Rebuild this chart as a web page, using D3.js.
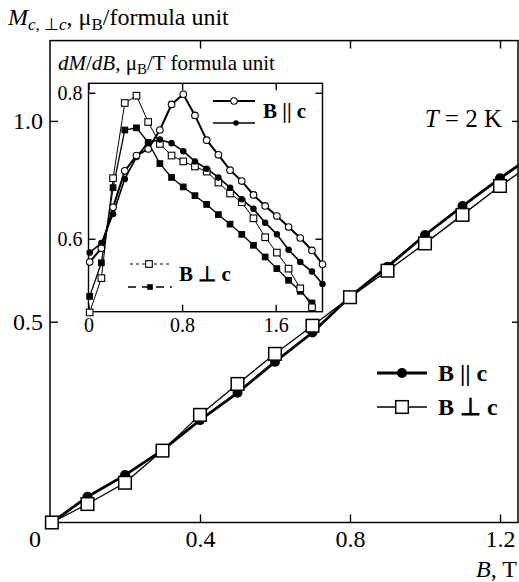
<!DOCTYPE html>
<html>
<head>
<meta charset="utf-8">
<script src="https://cdn.jsdelivr.net/npm/d3@7"></script>
<style>
  body { margin: 0; background: #fff; }
  text { font-family: "Liberation Serif", "Times New Roman", serif; fill: #000; }
</style>
</head>
<body>
<div id="chart"></div>
<script>
// Main plot data: magnetisation vs field (last point only carries the line to the edge)
var mainField    = [0.005, 0.1, 0.2, 0.3, 0.4, 0.5, 0.6, 0.7, 0.8, 0.9, 1.0, 1.1, 1.2, 1.25];
var mainParallel = [0, 0.064, 0.118, 0.18, 0.255, 0.323, 0.40, 0.473, 0.562, 0.637, 0.716, 0.788, 0.857, 0.89];
var mainPerp     = [0, 0.046, 0.099, 0.179, 0.268, 0.345, 0.42, 0.49, 0.561, 0.627, 0.695, 0.766, 0.838, 0.87];

// Inset data: dM/dB vs field
var insetField = [0.01, 0.11, 0.21, 0.31, 0.41, 0.51, 0.61, 0.71, 0.81, 0.91, 1.01,
                  1.11, 1.21, 1.31, 1.41, 1.51, 1.61, 1.71, 1.81, 1.91, 2.0];
var openParallel   = [0.568, 0.587, 0.643, 0.693, 0.714, 0.723, 0.749, 0.784, 0.798, 0.769, 0.735,
                      0.715, 0.694, 0.679, 0.660, 0.645, 0.631, 0.616, 0.601, 0.584, 0.565];
var filledParallel = [0.581, 0.594, 0.634, 0.682, 0.712, 0.732, 0.736, 0.731, 0.720, 0.706, 0.696,
                      0.684, 0.670, 0.654, 0.641, 0.622, 0.606, 0.585, 0.568, 0.555, 0.538];
var openPerp       = [0.499, 0.546, 0.683, 0.786, 0.796, 0.760, 0.730, 0.714, 0.706, 0.699, 0.692,
                      0.677, 0.662, 0.650, 0.628, 0.602, 0.581, 0.559, 0.532, 0.506];
var filledPerp     = [0.521, 0.567, 0.670, 0.749, 0.752, 0.732, 0.703, 0.684, 0.671, 0.659, 0.647,
                      0.633, 0.620, 0.606, 0.591, 0.575, 0.559, 0.543, 0.528, 0.512];

// Tick values
var mainXTicks = [0.4, 0.8, 1.2];
var mainYTicks = [0.5, 1.0];
var insetXTicks = [0, 0.8, 1.6];
var insetYTicks = [0.6, 0.8];

function zip(xs, ys) {
  return ys.map(function(v, i) { return { B: xs[i], M: v }; });
}

var svgWidth = 519, svgHeight = 582;
var svg = d3.select("#chart").append("svg")
  .attr("width", svgWidth)
  .attr("height", svgHeight);

svg.append("rect").attr("width", svgWidth).attr("height", svgHeight).attr("fill", "#fff");

// Main scales
// ================================
var x = d3.scaleLinear().domain([0, 1.25]).range([50, 518.75]);
var y = d3.scaleLinear().domain([0, 1.2]).range([522.5, 40.6]);

svg.append("clipPath").attr("id", "mainClip")
  .append("rect").attr("x", 50).attr("y", 40.6).attr("width", 468.5).attr("height", 482);

function tidy(g) {
  g.select(".domain").remove();
  g.selectAll("line").attr("stroke", "#000").attr("stroke-width", 1.4);
}

svg.append("g").attr("transform", "translate(0,522.5)")
  .call(d3.axisBottom(x).tickValues(mainXTicks).tickSize(-8).tickPadding(7).tickFormat(d3.format(".1f")))
  .call(tidy)
  .selectAll("text").attr("font-size", 24).attr("font-family", "Liberation Serif");

svg.append("g").attr("transform", "translate(0,40.6)")
  .call(d3.axisTop(x).tickValues(mainXTicks).tickSize(-8).tickFormat(""))
  .call(tidy);

svg.append("g").attr("transform", "translate(50,0)")
  .call(d3.axisLeft(y).tickValues(mainYTicks).tickSize(-8).tickPadding(7).tickFormat(d3.format(".1f")))
  .call(tidy)
  .selectAll("text").attr("font-size", 24).attr("font-family", "Liberation Serif");

svg.append("g").attr("transform", "translate(518,0)")
  .call(d3.axisRight(y).tickValues(mainYTicks).tickSize(-6).tickFormat(""))
  .call(tidy);

svg.append("rect")
  .attr("x", 50).attr("y", 40.6).attr("width", 468).attr("height", 481.9)
  .attr("fill", "none").attr("stroke", "#000").attr("stroke-width", 1.5);

svg.append("text").attr("x", 35).attr("y", 547).attr("text-anchor", "middle")
  .attr("font-size", 24).text("0");

// Axis labels
var xLabel = svg.append("text").attr("x", 517).attr("y", 577).attr("text-anchor", "end").attr("font-size", 24);
xLabel.append("tspan").attr("font-style", "italic").text("B");
xLabel.append("tspan").text(", T");

var yLabel = svg.append("text").attr("x", 8).attr("y", 25).attr("font-size", 24);
yLabel.append("tspan").attr("font-style", "italic").text("M");
yLabel.append("tspan").attr("font-size", 17).attr("dy", 5).attr("font-style", "italic").text("c");
yLabel.append("tspan").attr("font-size", 17).text(", ⊥");
yLabel.append("tspan").attr("font-size", 17).attr("font-style", "italic").text("c");
yLabel.append("tspan").attr("dy", -5).text(", μ");
yLabel.append("tspan").attr("font-size", 17).attr("dy", 5).text("B");
yLabel.append("tspan").attr("dy", -5).text("/formula unit");

var tLabel = svg.append("text").attr("x", 502).attr("y", 127).attr("text-anchor", "end").attr("font-size", 25);
tLabel.append("tspan").attr("font-style", "italic").text("T");
tLabel.append("tspan").text(" = 2 K");

// Main curves
// ================================
var mainLine = d3.line().x(function(d) { return x(d.B); }).y(function(d) { return y(d.M); });
var parData = zip(mainField, mainParallel);
var perpData = zip(mainField, mainPerp);

var mainGroup = svg.append("g").attr("clip-path", "url(#mainClip)");

mainGroup.append("path").datum(parData).attr("d", mainLine)
  .attr("fill", "none").attr("stroke", "#000").attr("stroke-width", 2.8);
mainGroup.selectAll(".par-dot").data(parData.filter(function(d) { return d.B <= 1.2; }))
  .enter().append("circle").attr("class", "par-dot")
  .attr("cx", function(d) { return x(d.B); })
  .attr("cy", function(d) { return y(d.M); })
  .attr("r", 5).attr("fill", "#000");

mainGroup.append("path").datum(perpData).attr("d", mainLine)
  .attr("fill", "none").attr("stroke", "#000").attr("stroke-width", 1.3);
svg.selectAll(".perp-sq").data(perpData.filter(function(d) { return d.B <= 1.2; }))
  .enter().append("rect").attr("class", "perp-sq")
  .attr("x", function(d) { return x(d.B) - 6.3; })
  .attr("y", function(d) { return y(d.M) - 6.3; })
  .attr("width", 12.6).attr("height", 12.6)
  .attr("fill", "#fff").attr("stroke", "#000").attr("stroke-width", 1.5);

// Main legend
var lg = svg.append("g");
lg.append("line").attr("x1", 377).attr("x2", 427).attr("y1", 373).attr("y2", 373)
  .attr("stroke", "#000").attr("stroke-width", 2.8);
lg.append("circle").attr("cx", 402).attr("cy", 373).attr("r", 5).attr("fill", "#000");
lg.append("text").attr("x", 438).attr("y", 381).attr("font-size", 24).attr("font-weight", "bold").text("B || c");
lg.append("line").attr("x1", 377).attr("x2", 427).attr("y1", 407).attr("y2", 407)
  .attr("stroke", "#000").attr("stroke-width", 1.3);
lg.append("rect").attr("x", 395.7).attr("y", 400.7).attr("width", 12.6).attr("height", 12.6)
  .attr("fill", "#fff").attr("stroke", "#000").attr("stroke-width", 1.5);
lg.append("text").attr("x", 438).attr("y", 415).attr("font-size", 24).attr("font-weight", "bold").text("B ⊥ c");

// Inset
// ================================
var ix = d3.scaleLinear().domain([0, 2.0]).range([88.5, 322.5]);
var iy = d3.scaleLinear().domain([0.5, 0.813]).range([311.7, 83.3]);

svg.append("rect").attr("x", 88.5).attr("y", 83.3).attr("width", 234).attr("height", 228.4)
  .attr("fill", "#fff");

svg.append("g").attr("transform", "translate(0,311.7)")
  .call(d3.axisBottom(ix).tickValues(insetXTicks).tickSize(-7).tickPadding(6).tickFormat(function(d) { return d === 0 ? "0" : d3.format(".1f")(d); }))
  .call(tidy)
  .selectAll("text").attr("font-size", 20).attr("font-family", "Liberation Serif");

svg.append("g").attr("transform", "translate(0,83.3)")
  .call(d3.axisTop(ix).tickValues(insetXTicks).tickSize(-7).tickFormat(""))
  .call(tidy);

svg.append("g").attr("transform", "translate(88.5,0)")
  .call(d3.axisLeft(iy).tickValues(insetYTicks).tickSize(-7).tickPadding(6).tickFormat(d3.format(".1f")))
  .call(tidy)
  .selectAll("text").attr("font-size", 20).attr("font-family", "Liberation Serif");

svg.append("g").attr("transform", "translate(322.5,0)")
  .call(d3.axisRight(iy).tickValues(insetYTicks).tickSize(-7).tickFormat(""))
  .call(tidy);

svg.append("rect").attr("x", 88.5).attr("y", 83.3).attr("width", 234).attr("height", 228.4)
  .attr("fill", "none").attr("stroke", "#000").attr("stroke-width", 1.4);

var iTitle = svg.append("text").attr("x", 58).attr("y", 70).attr("font-size", 21);
iTitle.append("tspan").attr("font-style", "italic").text("dM");
iTitle.append("tspan").text("/");
iTitle.append("tspan").attr("font-style", "italic").text("dB");
iTitle.append("tspan").text(", μ");
iTitle.append("tspan").attr("font-size", 15).attr("dy", 4).text("B");
iTitle.append("tspan").attr("dy", -4).text("/T formula unit");

var insetLine = d3.line().x(function(d) { return ix(d.B); }).y(function(d) { return iy(d.M); });

var series = [
  { data: zip(insetField, filledPerp), width: 1.3, shape: "sq", fill: "#000", size: 5.6 },
  { data: zip(insetField, openPerp), width: 1.0, shape: "sq", fill: "#fff", size: 6.6 },
  { data: zip(insetField, filledParallel), width: 1.6, shape: "dot", fill: "#000", size: 2.7 },
  { data: zip(insetField, openParallel), width: 2.0, shape: "dot", fill: "#fff", size: 3.3 }
];

series.forEach(function(s) {
  svg.append("path").datum(s.data).attr("d", insetLine)
    .attr("fill", "none").attr("stroke", "#000").attr("stroke-width", s.width);
});

series.forEach(function(s) {
  if (s.shape === "sq") {
    svg.append("g").selectAll("rect").data(s.data).enter().append("rect")
      .attr("x", function(d) { return ix(d.B) - s.size / 2; })
      .attr("y", function(d) { return iy(d.M) - s.size / 2; })
      .attr("width", s.size).attr("height", s.size)
      .attr("fill", s.fill).attr("stroke", "#000").attr("stroke-width", 1.1);
  } else {
    svg.append("g").selectAll("circle").data(s.data).enter().append("circle")
      .attr("cx", function(d) { return ix(d.B); })
      .attr("cy", function(d) { return iy(d.M); })
      .attr("r", s.size)
      .attr("fill", s.fill).attr("stroke", "#000").attr("stroke-width", 1.1);
  }
});

// Inset legend
var il = svg.append("g");
il.append("line").attr("x1", 213).attr("x2", 255).attr("y1", 101).attr("y2", 101)
  .attr("stroke", "#000").attr("stroke-width", 2.0);
il.append("circle").attr("cx", 234).attr("cy", 101).attr("r", 3.3)
  .attr("fill", "#fff").attr("stroke", "#000").attr("stroke-width", 1.1);
il.append("line").attr("x1", 213).attr("x2", 255).attr("y1", 123).attr("y2", 123)
  .attr("stroke", "#000").attr("stroke-width", 1.6);
il.append("circle").attr("cx", 236).attr("cy", 123).attr("r", 2.7).attr("fill", "#000");
il.append("text").attr("x", 263).attr("y", 118).attr("font-size", 21).attr("font-weight", "bold").text("B || c");

il.append("line").attr("x1", 130).attr("x2", 170).attr("y1", 264).attr("y2", 264)
  .attr("stroke", "#000").attr("stroke-width", 1.1).attr("stroke-dasharray", "3,3");
il.append("rect").attr("x", 145.7).attr("y", 260.7).attr("width", 6.6).attr("height", 6.6)
  .attr("fill", "#fff").attr("stroke", "#000").attr("stroke-width", 1.1);
il.append("line").attr("x1", 128).attr("x2", 172).attr("y1", 287).attr("y2", 287)
  .attr("stroke", "#000").attr("stroke-width", 1.3).attr("stroke-dasharray", "8,6");
il.append("rect").attr("x", 147.2).attr("y", 284.2).attr("width", 5.6).attr("height", 5.6).attr("fill", "#000");
il.append("text").attr("x", 179).attr("y", 281).attr("font-size", 21).attr("font-weight", "bold").text("B ⊥ c");
</script>
</body>
</html>
